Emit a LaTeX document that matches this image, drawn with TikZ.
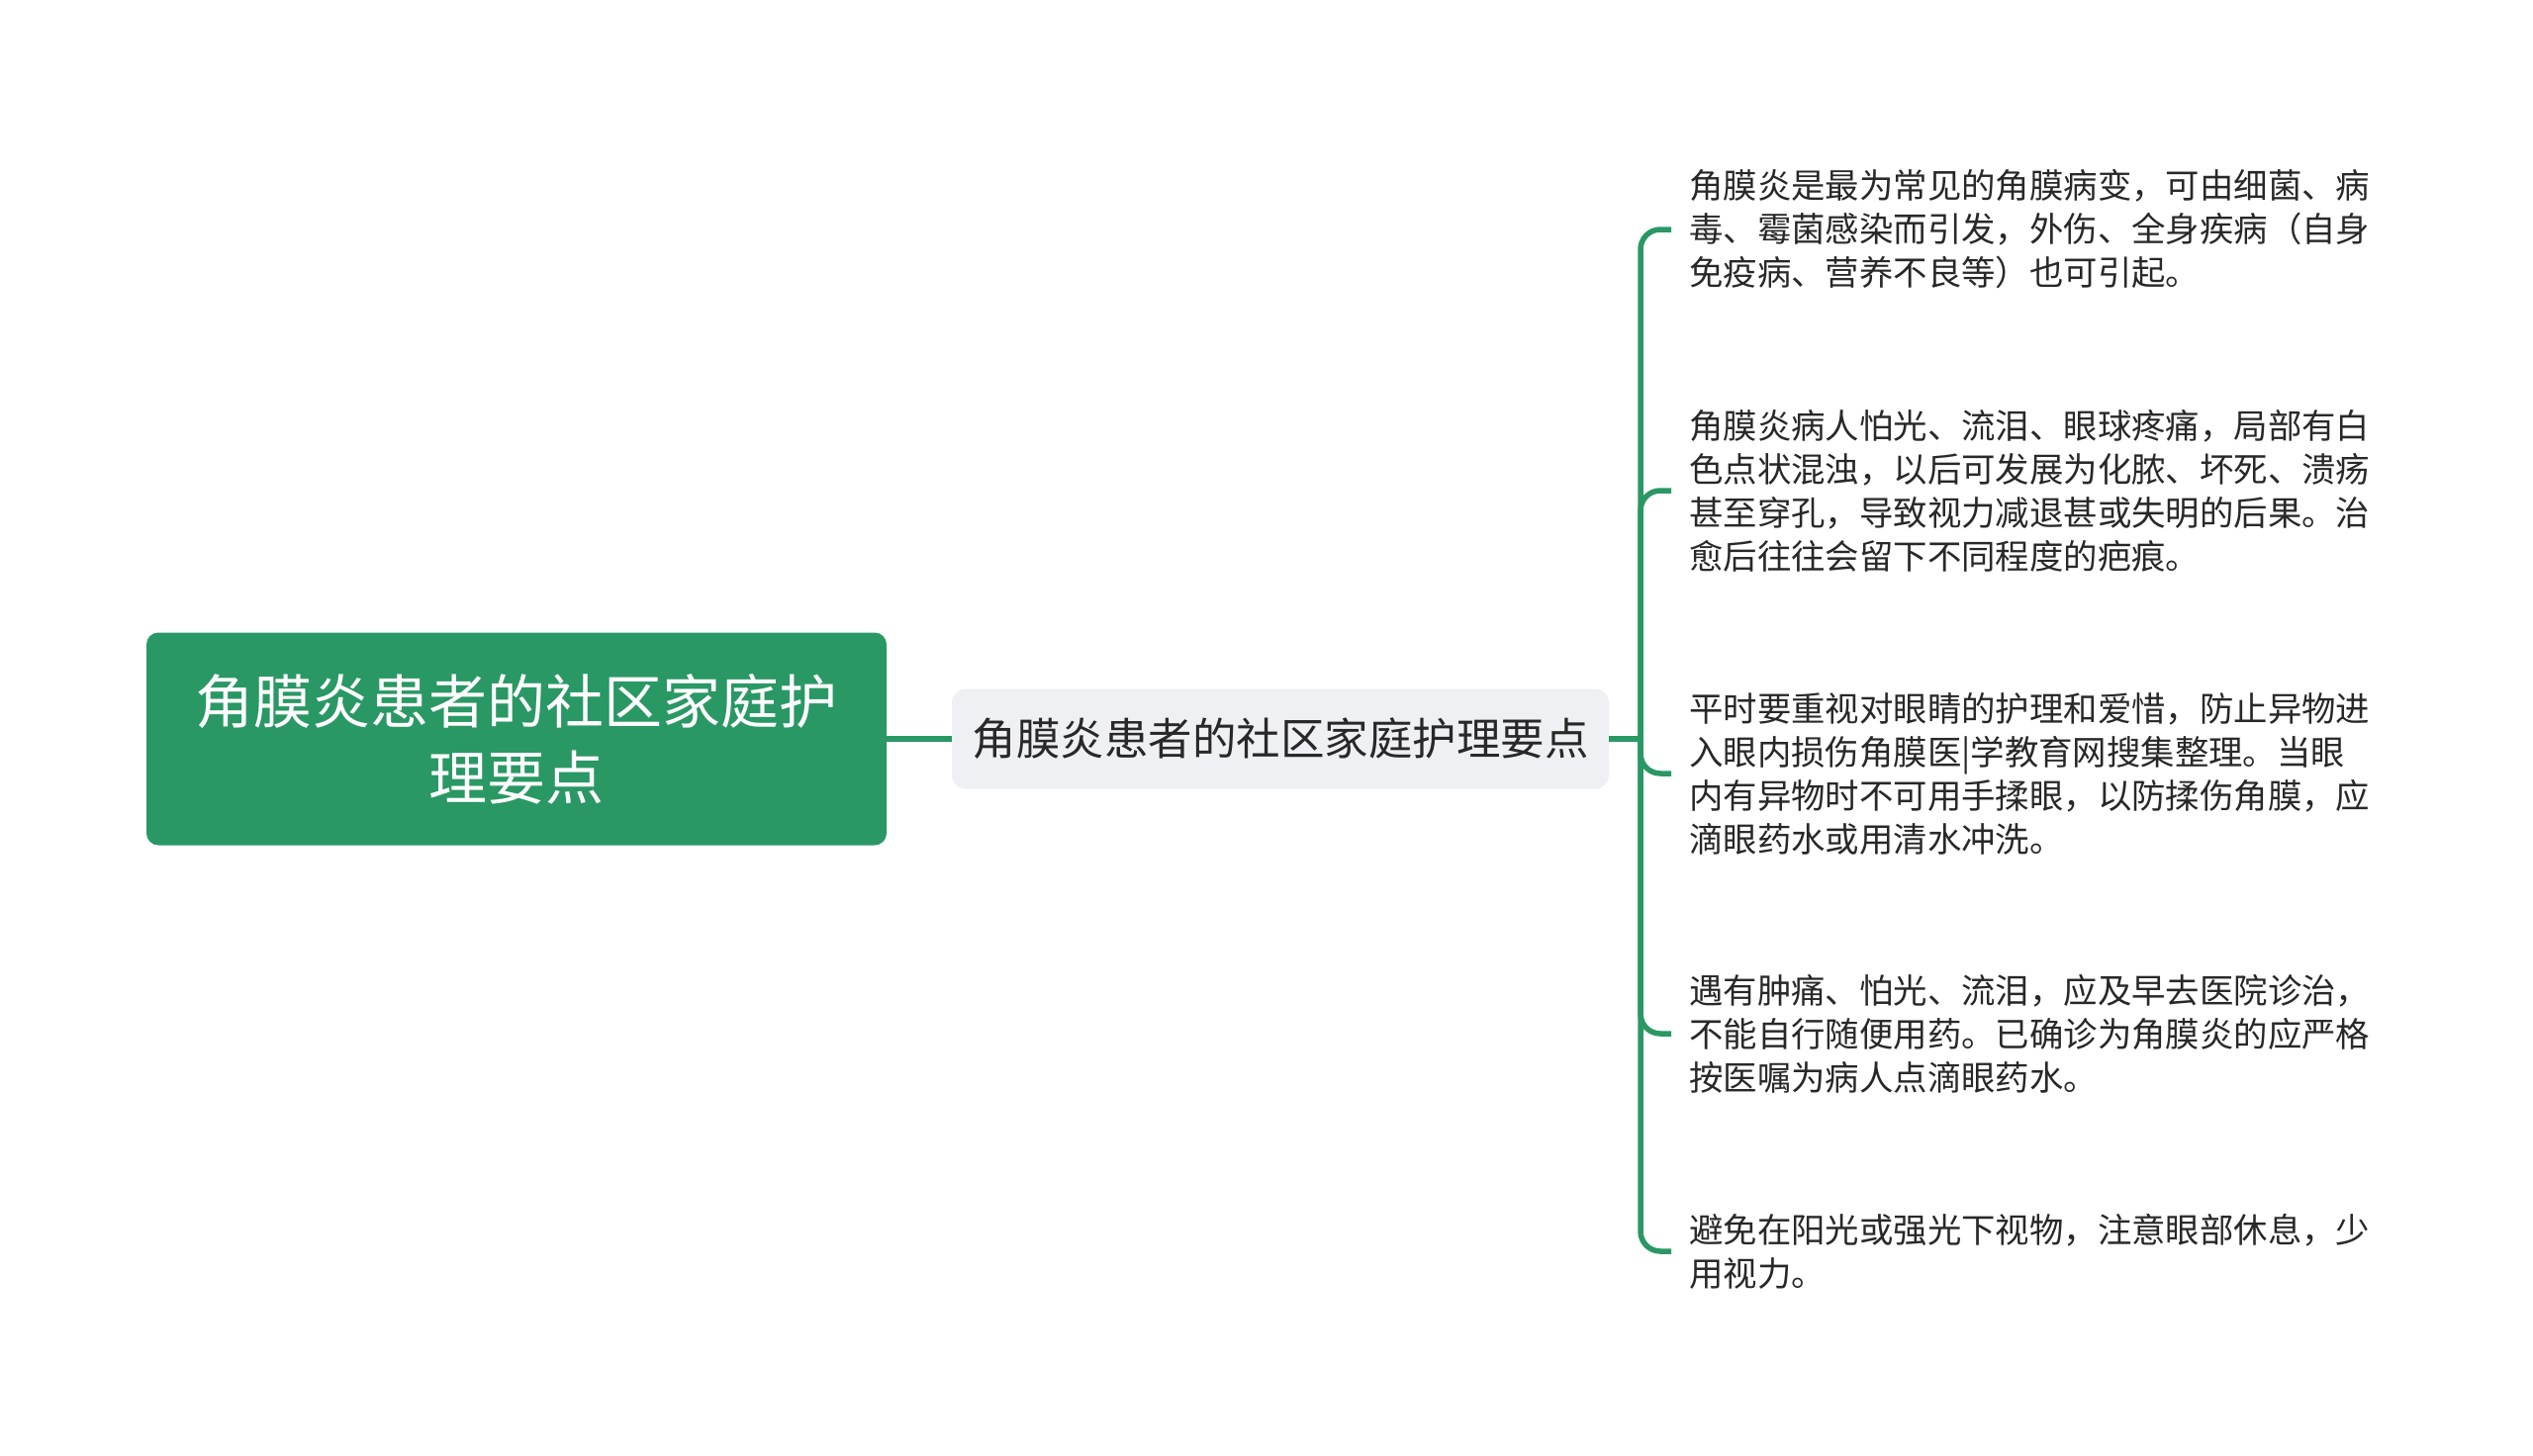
\documentclass[tikz,border=0pt]{standalone}
\usepackage{fontspec}
\setmainfont{Noto Sans CJK SC}
\definecolor{mgreen}{RGB}{42,152,100}
\definecolor{subgray}{RGB}{238,240,243}
\definecolor{txt}{RGB}{40,40,40}
\begin{document}
\begin{tikzpicture}[x=1pt,y=-1pt,
  rootbox/.style={fill=mgreen, rounded corners=12pt, minimum width=748pt, minimum height=215pt, text=white, align=center, inner sep=0pt, font=\fontsize{59}{77}\selectfont},
  subbox/.style={fill=subgray, rounded corners=14pt, minimum width=664pt, minimum height=101pt, text=txt, align=center, inner sep=0pt, font=\fontsize{44.5}{52}\selectfont},
  leaf/.style={anchor=west, align=left, inner sep=0pt, text=txt, font=\fontsize{34.4}{44}\selectfont},
  conn/.style={draw=mgreen, line width=5.5pt},
  tick/.style={conn, rounded corners=20pt}]
\useasboundingbox (0,0) rectangle (2560,1472);
\fill[white] (0,0) rectangle (2560,1472);
\node[rootbox] (root) at (522,747) {角膜炎患者的社区家庭护\\理要点};
\node[subbox] (sub) at (1294,747) {角膜炎患者的社区家庭护理要点};
\coordinate (jn) at (1658,747);
\node[leaf] (l1) at (1707,232) {角膜炎是最为常见的角膜病变，可由细菌、病\\毒、霉菌感染而引发，外伤、全身疾病（自身\\免疫病、营养不良等）也可引起。};
\node[leaf] (l2) at (1707,496) {角膜炎病人怕光、流泪、眼球疼痛，局部有白\\色点状混浊，以后可发展为化脓、坏死、溃疡\\甚至穿孔，导致视力减退甚或失明的后果。治\\愈后往往会留下不同程度的疤痕。};
\node[leaf] (l3) at (1707,782) {平时要重视对眼睛的护理和爱惜，防止异物进\\入眼内损伤角膜医|学教育网搜集整理。当眼\\内有异物时不可用手揉眼，以防揉伤角膜，应\\滴眼药水或用清水冲洗。};
\node[leaf] (l4) at (1707,1045) {遇有肿痛、怕光、流泪，应及早去医院诊治，\\不能自行随便用药。已确诊为角膜炎的应严格\\按医嘱为病人点滴眼药水。};
\node[leaf] (l5) at (1707,1265) {避免在阳光或强光下视物，注意眼部休息，少\\用视力。};
\draw[conn] (root.east) -- (sub.west);
\draw[conn] (sub.east) -- (jn);
\foreach \n in {l1,l2,l3,l4,l5}
  \draw[tick] (jn) |- ([xshift=-18pt]\n.west);
\end{tikzpicture}
\end{document}
